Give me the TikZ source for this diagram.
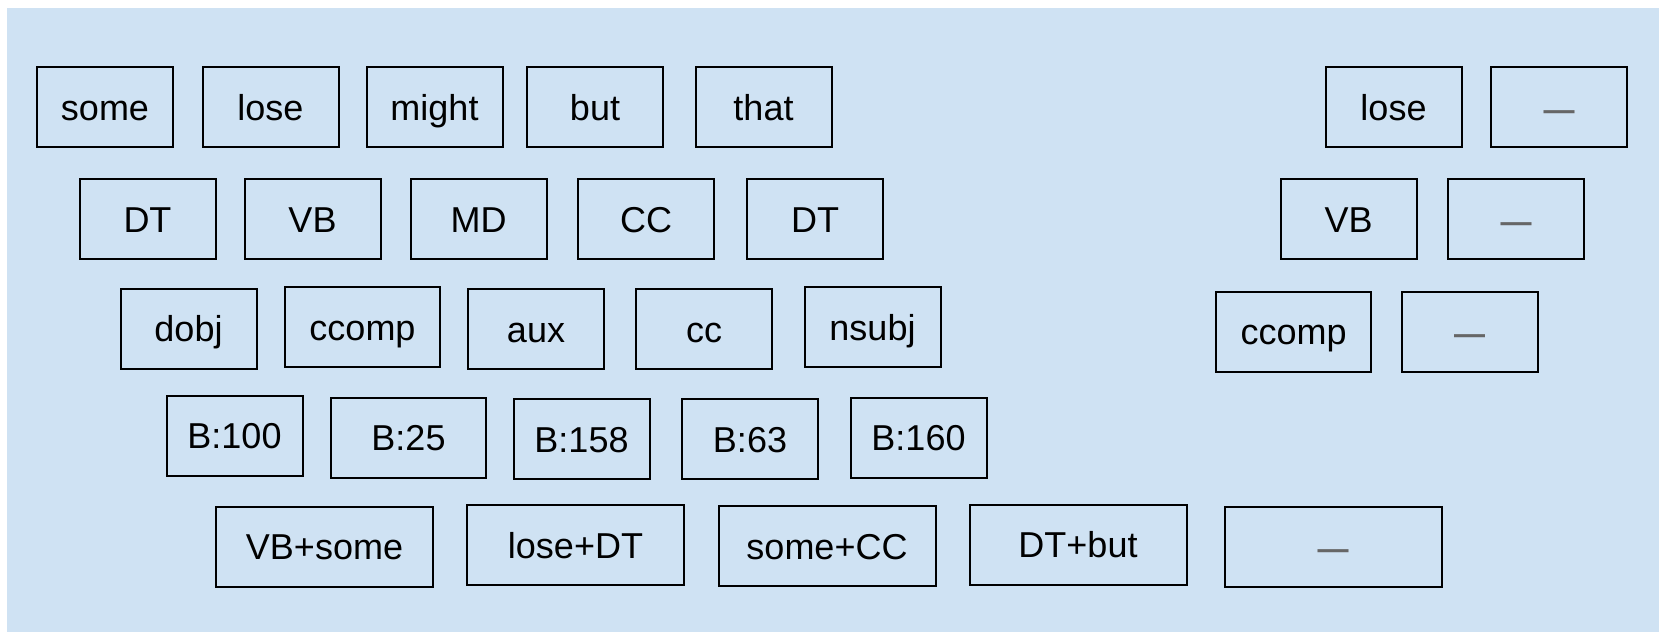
\documentclass[tikz,border=0pt]{standalone}
\usepackage{fontspec}
\setmainfont{Liberation Sans}
\definecolor{bgblue}{HTML}{CFE2F3}
\definecolor{dashgray}{HTML}{666666}
\begin{document}
\begin{tikzpicture}[x=0.5pt,y=-0.5pt,
  cell/.style={draw=black,line width=1pt,minimum width=68pt,minimum height=40pt,
    inner sep=0pt,text height=13pt,text depth=0pt,font=\fontsize{18}{21}\selectfont},
  midcell/.style={cell,minimum width=77.5pt},
  widecell/.style={cell,minimum width=108.5pt},
  empty/.style={text=dashgray,font=\fontsize{15.5}{18}\selectfont\bfseries}]
\useasboundingbox (0,0) rectangle (1659,632);
\fill [bgblue] (7,8) rectangle (1659,632);

% words
\node [cell] (w1) at (105,107) {some};
\node [cell] (w2) at (270.5,107) {lose};
\node [cell] (w3) at (434.5,107) {might};
\node [cell] (w4) at (595,107) {but};
\node [cell] (w5) at (763.5,107) {that};
\node [cell] (wa) at (1393.5,107) {lose};
\node [cell,empty] (wb) at (1559,107) {—};

% tags
\node [cell] (t1) at (147.5,219) {DT};
\node [cell] (t2) at (312.5,219) {VB};
\node [cell] (t3) at (478.5,219) {MD};
\node [cell] (t4) at (646,219) {CC};
\node [cell] (t5) at (815,219) {DT};
\node [cell] (ta) at (1348.5,219) {VB};
\node [cell,empty] (tb) at (1516,219) {—};

% relations
\node [cell] (r1) at (188.5,328.5) {dobj};
\node [midcell] (r2) at (362.5,327) {ccomp};
\node [cell] (r3) at (536,329) {aux};
\node [cell] (r4) at (704,329) {cc};
\node [cell] (r5) at (872.5,327) {nsubj};
\node [midcell] (ra) at (1293.5,331.5) {ccomp};
\node [cell,empty] (rb) at (1469.5,331.5) {—};

% bins
\node [cell] (b1) at (234.5,435.5) {B:100};
\node [midcell] (b2) at (408.5,437.5) {B:25};
\node [cell] (b3) at (581.5,439) {B:158};
\node [cell] (b4) at (750,439) {B:63};
\node [cell] (b5) at (918.5,437.5) {B:160};

% pairs
\node [widecell] (p1) at (324.5,546.5) {VB+some};
\node [widecell] (p2) at (575.5,545) {lose+DT};
\node [widecell] (p3) at (827,546) {some+CC};
\node [widecell] (p4) at (1078,544.5) {DT+but};
\node [widecell,empty] (p5) at (1333,546.5) {—};
\end{tikzpicture}
\end{document}
